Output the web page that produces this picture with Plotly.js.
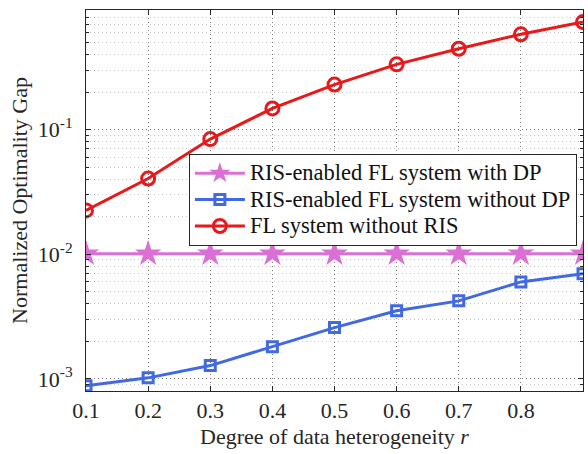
<!DOCTYPE html>
<html>
<head>
<meta charset="utf-8">
<script src="https://cdn.plot.ly/plotly-3.0.1.min.js"></script>
<style>html,body{margin:0;padding:0;background:#fff;}#chart{width:588px;height:454px;}</style>
</head>
<body>
<div id="chart"></div>
<script>
const r = [0.1, 0.2, 0.3, 0.4, 0.5, 0.6, 0.7, 0.8, 0.9];
const withDP = [0.0101, 0.0101, 0.0101, 0.0101, 0.0101, 0.0101, 0.0101, 0.0101, 0.0101];
const withoutDP = [0.00088, 0.00102, 0.00128, 0.00181, 0.00258, 0.00352, 0.00423, 0.00600, 0.00698];
const withoutRIS = [0.0225, 0.0405, 0.084, 0.148, 0.230, 0.334, 0.446, 0.582, 0.730];
const seriesNames = ['RIS-enabled FL system with DP', 'RIS-enabled FL system without DP', 'FL system without RIS'];
const xTickVals = [0.1, 0.2, 0.3, 0.4, 0.5, 0.6, 0.7, 0.8];
const xTickText = ['0.1', '0.2', '0.3', '0.4', '0.5', '0.6', '0.7', '0.8'];
const yTickVals = [0.001, 0.01, 0.1];
const yTickText = ['10<sup>-3</sup>', '10<sup>-2</sup>', '10<sup>-1</sup>'];
const yMinorVals = [0.0008, 0.0009, 0.002, 0.003, 0.004, 0.005, 0.006, 0.007, 0.008, 0.009,
  0.02, 0.03, 0.04, 0.05, 0.06, 0.07, 0.08, 0.09, 0.2, 0.3, 0.4, 0.5, 0.6, 0.7, 0.8, 0.9];

const font = 'Liberation Serif, Times New Roman, serif';
const big = n => '<span style="font-size:22.5px">' + n + '</span>';
const traces = [
  {x: r, y: withDP, name: big(seriesNames[0]), mode: 'lines+markers',
   line: {color: '#DA70D6', width: 3},
   marker: {symbol: 'star', size: 20, color: '#DA70D6', line: {width: 0}}},
  {x: r, y: withoutDP, name: big(seriesNames[1]), mode: 'lines+markers',
   line: {color: '#4169E1', width: 3},
   marker: {symbol: 'square-open', size: 10, color: '#4169E1', line: {width: 3, color: '#4169E1'}}},
  {x: r, y: withoutRIS, name: big(seriesNames[2]), mode: 'lines+markers',
   line: {color: '#E8191A', width: 3},
   marker: {symbol: 'circle-open', size: 13, color: '#E8191A', line: {width: 3, color: '#E8191A'}}}
];
const axCol = '#262626';
const layout = {
  width: 588, height: 454,
  margin: {l: 86, r: 5, t: 10, b: 63},
  paper_bgcolor: '#fff', plot_bgcolor: '#fff',
  font: {family: font, color: axCol, size: 22},
  showlegend: true,
  legend: {x: 0.207, y: 0.622, xanchor: 'left', yanchor: 'top',
    bgcolor: '#fff', bordercolor: '#262626', borderwidth: 1,
    font: {family: font, size: 18, color: '#111'}, itemwidth: 50, tracegroupgap: 0},
  xaxis: {
    range: [0.1, 0.9], tickvals: xTickVals, ticktext: xTickText,
    showline: true, linecolor: axCol, linewidth: 1, mirror: 'ticks',
    ticks: 'inside', ticklen: 5, tickcolor: axCol,
    showgrid: true, gridcolor: '#777', griddash: '1px,3px', gridwidth: 1,
    zeroline: false, tickfont: {size: 22, family: font, color: axCol},
    title: {text: 'Degree of data heterogeneity <i>r</i>', font: {size: 22, family: font, color: axCol}, standoff: 6}
  },
  yaxis: {
    type: 'log', range: [Math.log10(0.0008), Math.log10(0.912)],
    tickvals: yTickVals, ticktext: yTickText,
    showline: true, linecolor: axCol, linewidth: 1, mirror: 'ticks',
    ticks: 'inside', ticklen: 5, tickcolor: axCol, ticklabelstandoff: 8,
    showgrid: true, gridcolor: '#777', griddash: '1px,3px', gridwidth: 1,
    zeroline: false, tickfont: {size: 22, family: font, color: axCol},
    minor: {tickvals: yMinorVals,
      ticks: 'inside', ticklen: 3, tickcolor: axCol,
      showgrid: true, gridcolor: '#c4c4c4', griddash: '1px,3px', gridwidth: 1},
    title: {text: 'Normalized Optimality Gap', font: {size: 22, family: font, color: axCol}, standoff: 4}
  }
};
Plotly.newPlot('chart', traces, layout, {displayModeBar: false, staticPlot: true});
</script>
</body>
</html>
